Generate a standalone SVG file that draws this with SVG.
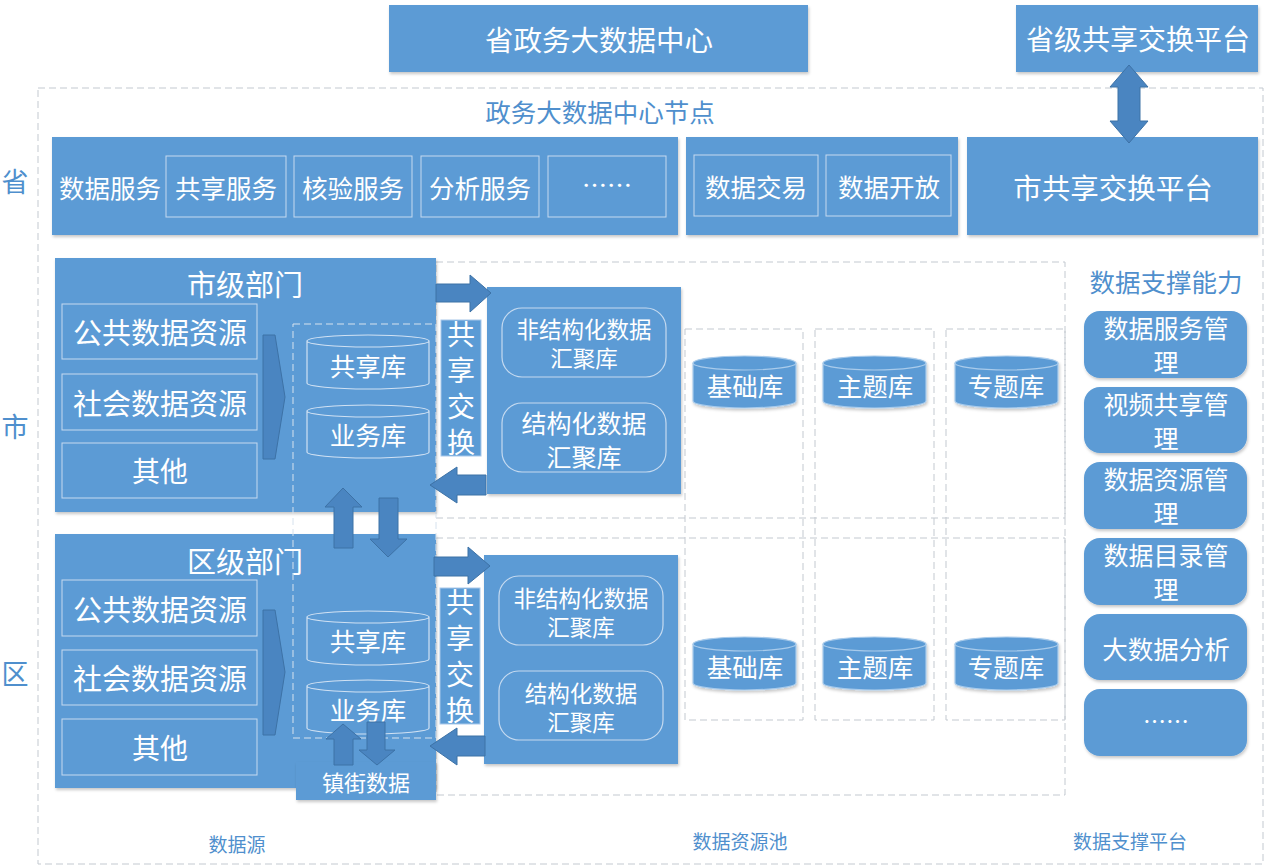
<svg xmlns="http://www.w3.org/2000/svg" width="1265" height="868" viewBox="0 0 1265 868">
<defs>
<filter id="sh" x="-10%" y="-10%" width="120%" height="130%">
<feDropShadow dx="1" dy="2" stdDeviation="1.5" flood-color="#000" flood-opacity="0.22"/>
</filter>
<style>
text,tspan{font-family:"Noto Sans CJK SC","Noto Sans",sans-serif;text-anchor:middle;dominant-baseline:central}
.box{fill:#5b9bd5}
.shd{filter:url(#sh)}
.inner{fill:none;stroke:#c5daf0;stroke-width:1}
.w{fill:#ffffff}
.lbl{fill:#4f8fcd}
.vt{writing-mode:vertical-rl;letter-spacing:8px}
.dash{fill:none;stroke:#c3c9d0;stroke-width:1;stroke-dasharray:7 4}
.dashl{fill:none;stroke:#d6e2ee;stroke-width:1;stroke-dasharray:7 4}
.arr{fill:#4a85c1;stroke:#3d72a6;stroke-width:1}
.cyl{fill:none;stroke:#d0e1f3;stroke-width:1.2}
.cylf{fill:#5b9bd5;stroke:#a9cbeb;stroke-width:1.2}
.rr{fill:none;stroke:#c5daf0;stroke-width:1.2}
</style>
</defs>
<rect width="1265" height="868" fill="#ffffff"/>

<!-- outer dashed frame and regions -->
<g id="frames">
<rect class="dash" x="38" y="88" width="1225" height="776"/>
<rect class="dash" x="436" y="262" width="629" height="256"/>
<rect class="dash" x="436" y="538" width="629" height="257"/>
<rect class="dash" x="685" y="329" width="118" height="391"/>
<rect class="dash" x="815" y="329" width="119" height="391"/>
<rect class="dash" x="946" y="329" width="119" height="391"/>
</g>

<!-- side labels -->
<g id="labels">
<text class="lbl" x="15" y="180" font-size="27">省</text>
<text class="lbl" x="15" y="425" font-size="27">市</text>
<text class="lbl" x="15" y="672" font-size="27">区</text>
<text class="lbl" x="600" y="110" font-size="25.5">政务大数据中心节点</text>
<text class="lbl" x="1166" y="280" font-size="25.5">数据支撑能力</text>
<text class="lbl" x="237" y="843" font-size="19">数据源</text>
<text class="lbl" x="740" y="840" font-size="19">数据资源池</text>
<text class="lbl" x="1130" y="840" font-size="19">数据支撑平台</text>
</g>

<!-- top -->
<g id="prov-center">
<rect class="box shd" x="389" y="5" width="419" height="67"/>
<text class="w" x="599" y="38" font-size="28.5">省政务大数据中心</text>
</g>
<g id="prov-exchange">
<rect class="box shd" x="1016" y="5" width="242" height="67"/>
<text class="w" x="1138" y="38" font-size="28">省级共享交换平台</text>
</g>

<!-- province row -->
<g id="data-service">
<rect class="box shd" x="52" y="137" width="626" height="98"/>
<text class="w" x="110" y="186" font-size="25.5">数据服务</text>
<rect class="inner" x="166" y="156" width="120" height="61"/>
<text class="w" x="226" y="186" font-size="25.5">共享服务</text>
<rect class="inner" x="294" y="156" width="118" height="61"/>
<text class="w" x="353" y="186" font-size="25.5">核验服务</text>
<rect class="inner" x="421" y="156" width="118" height="61"/>
<text class="w" x="480" y="186" font-size="25.5">分析服务</text>
<rect class="inner" x="548" y="156" width="118" height="61"/>
<text class="w" x="607" y="184" font-size="25">……</text>
</g>
<g id="data-trade">
<rect class="box shd" x="686" y="137" width="272" height="98"/>
<rect class="inner" x="694" y="155" width="124" height="61"/>
<text class="w" x="756" y="185" font-size="25.5">数据交易</text>
<rect class="inner" x="826" y="155" width="125" height="61"/>
<text class="w" x="889" y="185" font-size="25.5">数据开放</text>
</g>
<g id="city-exchange">
<rect class="box shd" x="967" y="137" width="291" height="98"/>
<text class="w" x="1113" y="186" font-size="28.5">市共享交换平台</text>
</g>

<!-- city dept -->
<g id="city-dept">
<rect class="box shd" x="55" y="258" width="381" height="254"/>
<text class="w" x="245" y="283" font-size="29">市级部门</text>
<rect class="inner" x="62" y="304" width="195" height="55"/>
<text class="w" x="160" y="331" font-size="29">公共数据资源</text>
<rect class="inner" x="62" y="374" width="195" height="56"/>
<text class="w" x="160" y="402" font-size="29">社会数据资源</text>
<rect class="inner" x="62" y="443" width="195" height="55"/>
<text class="w" x="160" y="470" font-size="28">其他</text>
<polygon class="arr" points="263,335 275,335 285,397 275,459 263,459"/>
</g>

<!-- district dept -->
<g id="district-dept">
<rect class="box shd" x="55" y="534" width="381" height="254"/>
<text class="w" x="245" y="560" font-size="29">区级部门</text>
<rect class="inner" x="62" y="580" width="195" height="56"/>
<text class="w" x="160" y="608" font-size="29">公共数据资源</text>
<rect class="inner" x="62" y="650" width="195" height="55"/>
<text class="w" x="160" y="677" font-size="29">社会数据资源</text>
<rect class="inner" x="62" y="719" width="195" height="56"/>
<text class="w" x="160" y="747" font-size="28">其他</text>
<polygon class="arr" points="263,610 275,610 285,672 275,735 263,735"/>
</g>

<g id="town-data">
<rect class="box shd" x="296" y="762" width="140" height="38"/>
<text class="w" x="366" y="781" font-size="22">镇街数据</text>
</g>

<!-- shared db cylinders -->
<g id="city-share-db">
<path class="cyl" d="M307,341 A61,6 0 0 1 429,341 V383 A61,6 0 0 1 307,383 Z M307,341 A61,6 0 0 0 429,341"/>
<text class="w" x="368" y="364" font-size="25.5">共享库</text>
</g>
<g id="city-biz-db">
<path class="cyl" d="M307,411 A61,6 0 0 1 429,411 V452 A61,6 0 0 1 307,452 Z M307,411 A61,6 0 0 0 429,411"/>
<text class="w" x="368" y="433" font-size="25.5">业务库</text>
</g>
<g id="dist-share-db">
<path class="cyl" d="M307,617 A61,6 0 0 1 429,617 V659 A61,6 0 0 1 307,659 Z M307,617 A61,6 0 0 0 429,617"/>
<text class="w" x="368" y="639" font-size="25.5">共享库</text>
</g>
<g id="dist-biz-db">
<path class="cyl" d="M307,686 A61,6 0 0 1 429,686 V728 A61,6 0 0 1 307,728 Z M307,686 A61,6 0 0 0 429,686"/>
<text class="w" x="368" y="708" font-size="25.5">业务库</text>
</g>
<rect class="dashl" x="293" y="324" width="143" height="414"/>

<!-- exchange labels -->
<g id="city-exch">
<rect class="box" x="441" y="320" width="40" height="136" stroke="#a8c8ea" stroke-width="1"/>
<text class="w vt" x="461" y="392" font-size="28">共享交换</text>
</g>
<g id="dist-exch">
<rect class="box" x="440" y="588" width="40" height="136" stroke="#a8c8ea" stroke-width="1"/>
<text class="w vt" x="460" y="660" font-size="28">共享交换</text>
</g>

<!-- aggregation boxes -->
<g id="city-agg">
<rect class="box shd" x="487" y="287" width="194" height="207"/>
<rect class="rr" x="502" y="308" width="164" height="69" rx="20"/>
<text class="w" font-size="22.5"><tspan x="584" y="328">非结构化数据</tspan><tspan x="584" y="357">汇聚库</tspan></text>
<rect class="rr" x="502" y="403" width="164" height="69" rx="20"/>
<text class="w" font-size="25"><tspan x="584" y="422">结构化数据</tspan><tspan x="584" y="456">汇聚库</tspan></text>
</g>
<g id="dist-agg">
<rect class="box shd" x="484" y="555" width="194" height="209"/>
<rect class="rr" x="499" y="576" width="164" height="69" rx="20"/>
<text class="w" font-size="22.5"><tspan x="581" y="597">非结构化数据</tspan><tspan x="581" y="626">汇聚库</tspan></text>
<rect class="rr" x="499" y="671" width="164" height="69" rx="20"/>
<text class="w" font-size="22.5"><tspan x="581" y="692">结构化数据</tspan><tspan x="581" y="721">汇聚库</tspan></text>
</g>

<!-- resource pool cylinders -->
<g id="city-base">
<path class="cylf shd" d="M693,363 A51.5,7 0 0 1 796,363 V401 A51.5,7 0 0 1 693,401 Z"/>
<path class="cylf" d="M693,363 A51.5,7 0 0 0 796,363"/>
<text class="w" x="745" y="384" font-size="25.5">基础库</text>
</g>
<g id="city-theme">
<path class="cylf shd" d="M823,363 A51.5,7 0 0 1 926,363 V401 A51.5,7 0 0 1 823,401 Z"/>
<path class="cylf" d="M823,363 A51.5,7 0 0 0 926,363"/>
<text class="w" x="875" y="384" font-size="25.5">主题库</text>
</g>
<g id="city-topic">
<path class="cylf shd" d="M955,363 A51.5,7 0 0 1 1058,363 V401 A51.5,7 0 0 1 955,401 Z"/>
<path class="cylf" d="M955,363 A51.5,7 0 0 0 1058,363"/>
<text class="w" x="1006" y="384" font-size="25.5">专题库</text>
</g>
<g id="dist-base">
<path class="cylf shd" d="M693,644 A51.5,7 0 0 1 796,644 V683 A51.5,7 0 0 1 693,683 Z"/>
<path class="cylf" d="M693,644 A51.5,7 0 0 0 796,644"/>
<text class="w" x="745" y="665" font-size="25.5">基础库</text>
</g>
<g id="dist-theme">
<path class="cylf shd" d="M823,644 A51.5,7 0 0 1 926,644 V683 A51.5,7 0 0 1 823,683 Z"/>
<path class="cylf" d="M823,644 A51.5,7 0 0 0 926,644"/>
<text class="w" x="875" y="665" font-size="25.5">主题库</text>
</g>
<g id="dist-topic">
<path class="cylf shd" d="M955,644 A51.5,7 0 0 1 1058,644 V683 A51.5,7 0 0 1 955,683 Z"/>
<path class="cylf" d="M955,644 A51.5,7 0 0 0 1058,644"/>
<text class="w" x="1006" y="665" font-size="25.5">专题库</text>
</g>

<!-- support capabilities -->
<g id="sup1">
<rect class="box shd" x="1084" y="311" width="163" height="67" rx="16"/>
<text class="w" font-size="25"><tspan x="1166" y="327">数据服务管</tspan><tspan x="1166" y="361">理</tspan></text>
</g>
<g id="sup2">
<rect class="box shd" x="1084" y="387" width="163" height="66" rx="16"/>
<text class="w" font-size="25"><tspan x="1166" y="403">视频共享管</tspan><tspan x="1166" y="437">理</tspan></text>
</g>
<g id="sup3">
<rect class="box shd" x="1084" y="462" width="163" height="67" rx="16"/>
<text class="w" font-size="25"><tspan x="1166" y="478">数据资源管</tspan><tspan x="1166" y="512">理</tspan></text>
</g>
<g id="sup4">
<rect class="box shd" x="1084" y="538" width="163" height="67" rx="16"/>
<text class="w" font-size="25"><tspan x="1166" y="554">数据目录管</tspan><tspan x="1166" y="588">理</tspan></text>
</g>
<g id="sup5">
<rect class="box shd" x="1084" y="614" width="163" height="66" rx="16"/>
<text class="w" x="1166" y="647" font-size="25.5">大数据分析</text>
</g>
<g id="sup6">
<rect class="box shd" x="1084" y="689" width="163" height="67" rx="16"/>
<text class="w" x="1166" y="720" font-size="23">……</text>
</g>

<!-- connectors -->
<g id="connectors">
<polygon class="arr" points="1129,65 1148,87 1140,87 1140,121 1148,121 1129,143 1110,121 1118,121 1118,87 1110,87"/>
<polygon class="arr" points="436,284 470,284 470,275 491,293 470,312 470,302 436,302"/>
<polygon class="arr" points="486,475 457,475 457,467 430,485 457,503 457,495 486,495"/>
<polygon class="arr" points="434,557 468,557 468,547 490,566 468,584 468,576 434,576"/>
<polygon class="arr" points="485,736 457,736 457,728 430,746 457,765 457,756 485,756"/>
<polygon class="arr" points="334,548 334,507 325,507 343,488 362,507 353,507 353,548"/>
<polygon class="arr" points="379,498 398,498 398,539 407,539 388,557 370,539 379,539"/>
<polygon class="arr" points="334,765 334,739 326,739 343,724 361,739 353,739 353,765"/>
<polygon class="arr" points="367,722 385,722 385,750 395,750 377,765 359,750 367,750"/>
</g>
</svg>
